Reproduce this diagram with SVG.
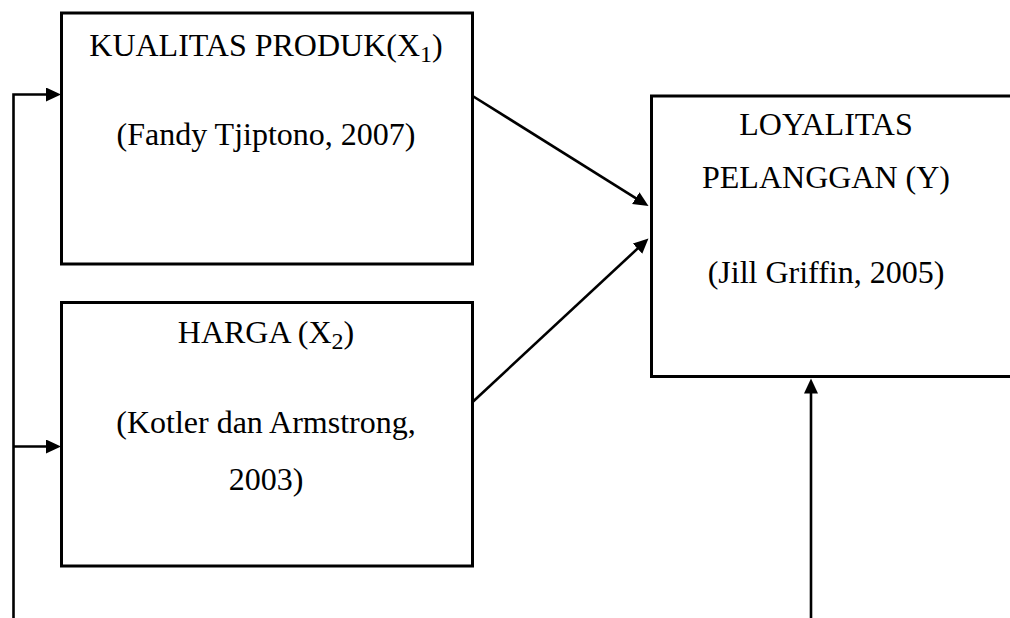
<svg xmlns="http://www.w3.org/2000/svg" width="1010" height="618" viewBox="0 0 1010 618">
<defs>
<style>
.box{fill:#fff;stroke:#000;stroke-width:3}
.lbl{font-family:"Liberation Serif","Times New Roman",serif;font-size:32px;fill:#000;text-anchor:middle}
.sub{font-size:24px}
.con{fill:none;stroke:#000;stroke-width:2.6}
</style>
<marker id="ah" markerUnits="userSpaceOnUse" markerWidth="16" markerHeight="15" refX="7" refY="7" orient="auto">
<path d="M0,0 L15,7 L0,14 z" fill="#000"/>
</marker>
</defs>
<rect width="1010" height="618" fill="#fff"/>
<g id="connectors">
<path class="con" d="M13.5,618 V94.5 H53" marker-end="url(#ah)"/>
<path class="con" d="M13.5,446.5 H53" marker-end="url(#ah)"/>
<path class="con" d="M471,95 L641.7,201.8" marker-end="url(#ah)"/>
<path class="con" d="M471,403.5 L642.6,243.9" marker-end="url(#ah)"/>
<path class="con" d="M811,618 V386.5" marker-end="url(#ah)"/>
</g>
<g id="node-kualitas">
<rect class="box" x="61.5" y="13" width="411" height="251"/>
<text class="lbl" x="266" y="56">KUALITAS PRODUK(X<tspan class="sub" dy="6">1</tspan><tspan dy="-6">)</tspan></text>
<text class="lbl" x="266" y="145">(Fandy Tjiptono, 2007)</text>
</g>
<g id="node-harga">
<rect class="box" x="61.5" y="302.5" width="411" height="263.5"/>
<text class="lbl" x="266" y="343">HARGA (X<tspan class="sub" dy="6">2</tspan><tspan dy="-6">)</tspan></text>
<text class="lbl" x="266" y="433">(Kotler dan Armstrong,</text>
<text class="lbl" x="266" y="490">2003)</text>
</g>
<g id="node-loyalitas">
<rect class="box" x="651.5" y="96" width="380" height="280.5"/>
<text class="lbl" x="826" y="135">LOYALITAS</text>
<text class="lbl" x="826" y="188">PELANGGAN (Y)</text>
<text class="lbl" x="826" y="283">(Jill Griffin, 2005)</text>
</g>
</svg>
